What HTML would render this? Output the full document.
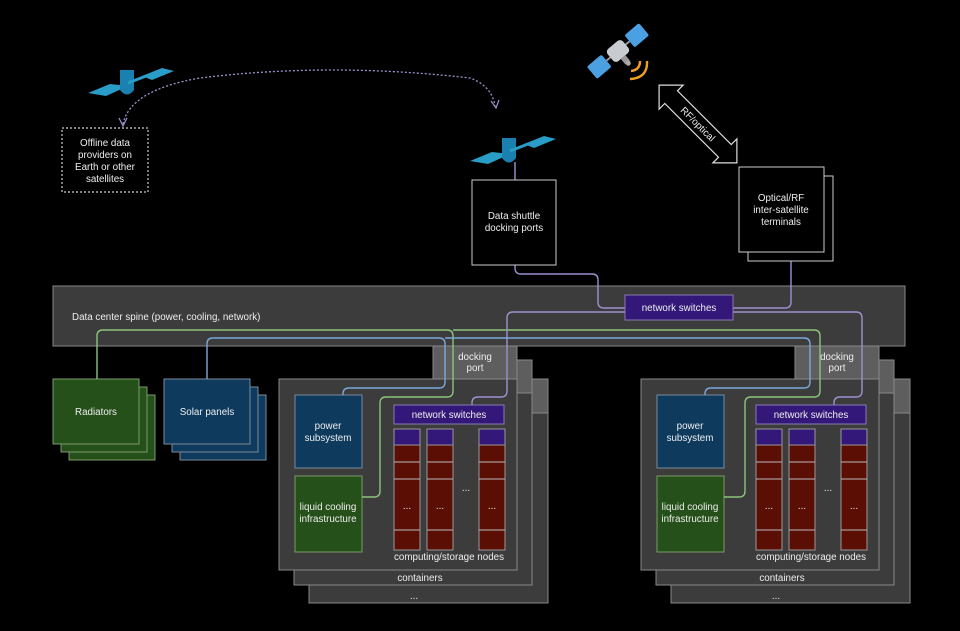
<!DOCTYPE html>
<html><head><meta charset="utf-8"><style>
html,body{margin:0;padding:0;background:#000;}
svg{display:block;font-family:"Liberation Sans",Arial,sans-serif;}
text{fill:#eee;font-size:9.8px;text-anchor:middle;}
</style></head><body>
<svg width="960" height="631" viewBox="0 0 960 631" xmlns="http://www.w3.org/2000/svg">
<rect width="960" height="631" fill="#000"/>
<defs>
<g id="cont">
  <rect x="309" y="412" width="239" height="191" fill="#3c3c3c" stroke="#888"/>
  <rect x="532" y="379" width="16" height="34" fill="#5e5e5e" stroke="#888"/>
  <rect x="294" y="393" width="238" height="192" fill="#3c3c3c" stroke="#888"/>
  <rect x="517" y="360" width="15" height="33" fill="#5e5e5e" stroke="#888"/>
  <rect x="279" y="379" width="238" height="191" fill="#3c3c3c" stroke="#888"/>
  <rect x="433" y="346" width="84" height="33" fill="#5e5e5e" stroke="#888"/>
  <text x="475" y="360">docking</text><text x="475" y="371">port</text>
  <text x="420" y="581">containers</text>
  <text x="414" y="599" font-size="7">...</text>
  <rect x="295" y="395" width="67" height="73" fill="#0e3a5e" stroke="#7a8a9a"/>
  <text x="328" y="429">power</text><text x="328" y="441">subsystem</text>
  <rect x="295" y="476" width="67" height="76" fill="#26501a" stroke="#7a9a6a"/>
  <text x="328" y="510">liquid cooling</text><text x="328" y="522">infrastructure</text>
  <rect x="394" y="405" width="110" height="19" fill="#33187a" stroke="#8a7ab0"/>
  <text x="449" y="418">network switches</text>
  <g id="col">
    <rect x="394" y="429" width="26" height="121" fill="#5a0e04" stroke="#999"/>
    <rect x="394" y="429" width="26" height="16" fill="#33187a" stroke="#999"/>
    <line x1="394" y1="462" x2="420" y2="462" stroke="#bbb"/>
    <line x1="394" y1="479" x2="420" y2="479" stroke="#bbb"/>
    <line x1="394" y1="530" x2="420" y2="530" stroke="#bbb"/>
    <text x="407" y="509" font-size="6" fill="#888">...</text>
  </g>
  <use href="#col" x="33"/>
  <use href="#col" x="85"/>
  <text x="466" y="491" font-size="6" fill="#888">...</text>
  <text x="449" y="560">computing/storage nodes</text>
</g>
</defs>

<rect x="53" y="286" width="852" height="60" fill="#3c3c3c" stroke="#888"/>
<text x="72" y="320" style="text-anchor:start">Data center spine (power, cooling, network)</text>

<rect x="69" y="395" width="86" height="65" fill="#26501a" stroke="#7a9a6a"/>
<rect x="61" y="387" width="86" height="65" fill="#26501a" stroke="#7a9a6a"/>
<rect x="53" y="379" width="86" height="65" fill="#26501a" stroke="#7a9a6a"/>
<text x="96" y="415">Radiators</text>
<rect x="180" y="395" width="86" height="65" fill="#0e3a5e" stroke="#7a8a9a"/>
<rect x="172" y="387" width="86" height="65" fill="#0e3a5e" stroke="#7a8a9a"/>
<rect x="164" y="379" width="86" height="65" fill="#0e3a5e" stroke="#7a8a9a"/>
<text x="207" y="415">Solar panels</text>

<use href="#cont"/>
<use href="#cont" x="362"/>

<g fill="none" stroke-width="1.4">
 <path d="M97 379 V336 Q97 330 103 330 H447 Q453 330 453 336 V391 Q453 397 447 397 H386 Q380 397 380 403 V491 Q380 497 374 497 H362" stroke="#8cc47a"/>
 <path d="M453 330 H814 Q820 330 820 336 V391 Q820 397 814 397 H751 Q745 397 745 403 V491 Q745 497 739 497 H724" stroke="#8cc47a"/>
 <path d="M207 379 V344 Q207 338 213 338 H439 Q445 338 445 344 V382 Q445 388 439 388 H349 Q343 388 343 394 V395" stroke="#7aa8dc"/>
 <path d="M445 338 H804 Q810 338 810 344 V382 Q810 388 804 388 H711 Q705 388 705 394 V395" stroke="#7aa8dc"/>
 <path d="M625 312 H513 Q507 312 507 318 V391 Q507 397 501 397 H478 Q472 397 472 403 V405" stroke="#a090d0"/>
 <path d="M733 312 H856 Q862 312 862 318 V391 Q862 397 856 397 H840 Q834 397 834 403 V405" stroke="#a090d0"/>
 <path d="M515 265 V268 Q515 274 521 274 H592 Q598 274 598 280 V302 Q598 308 604 308 H625" stroke="#a090d0"/>
 <path d="M791 261 V302 Q791 308 785 308 H733" stroke="#a090d0"/>
 <line x1="515" y1="162" x2="515" y2="180" stroke="#a090d0"/>
</g>
<rect x="625" y="295" width="108" height="25" fill="#33187a" stroke="#8a7ab0"/>
<text x="679" y="311">network switches</text>

<rect x="472" y="180" width="84" height="85" fill="#000" stroke="#ccc"/>
<text x="514" y="219">Data shuttle</text><text x="514" y="231">docking ports</text>
<rect x="748" y="176" width="85" height="85" fill="#000" stroke="#ccc"/>
<rect x="739" y="167" width="85" height="85" fill="#000" stroke="#ccc"/>
<text x="781" y="201">Optical/RF</text><text x="781" y="213">inter-satellite</text><text x="781" y="225">terminals</text>

<g transform="translate(698,124) rotate(45)">
 <path d="M-55 0 L-38 -17 L-38 -9 L38 -9 L38 -17 L55 0 L38 17 L38 9 L-38 9 L-38 17 Z" fill="#000" stroke="#ddd" stroke-width="1.2"/>
 <text x="0" y="3.5" font-size="9">RF/optical</text>
</g>

<rect x="62" y="128" width="86" height="64" fill="#000" stroke="#ccc" stroke-dasharray="2,2" stroke-width="1.2"/>
<text x="105" y="146">Offline data</text><text x="105" y="158">providers on</text><text x="105" y="170">Earth or other</text><text x="105" y="182">satellites</text>
<path d="M123 124 Q130 90 200 78 Q330 62 470 78 Q492 86 495 106" fill="none" stroke="#a090d0" stroke-dasharray="2,2" stroke-width="1.3"/>
<path d="M119 118 L123 126 L127 118" fill="none" stroke="#a090d0" stroke-width="1.2"/>
<path d="M491 101 L496 108 L499 100" fill="none" stroke="#a090d0" stroke-width="1.2"/>

<g id="sat1">
 <polygon points="88,93 110,84 128,86 106,96" fill="#2a9cc8"/>
 <polygon points="142,76 162,68 174,71 152,80" fill="#2a9cc8"/>
 <rect x="120" y="70" width="14" height="20" fill="#1a80b0"/>
 <path d="M120 90 Q127 99 134 90 Z" fill="#1a80b0"/>
 <line x1="128" y1="83" x2="146" y2="76" stroke="#2a9cc8" stroke-width="3"/>
</g>
<use href="#sat1" x="382" y="68"/>

<g transform="translate(618,51) rotate(-40)">
 <rect x="-34" y="-8" width="19" height="16" fill="#4aa0e0" rx="2"/>
 <rect x="15" y="-8" width="19" height="16" fill="#4aa0e0" rx="2"/>
 <line x1="-15" y1="0" x2="15" y2="0" stroke="#999" stroke-width="2"/>
 <rect x="-10" y="-8" width="20" height="16" fill="#c8ccd0" rx="4"/>
 <rect x="-3" y="8" width="6" height="7" fill="#999"/>
 <circle cx="0" cy="16" r="2.5" fill="#aaa"/>
</g>
<path d="M631 71 Q640 70 640 61" fill="none" stroke="#f0a020" stroke-width="2.4"/>
<path d="M630 79 Q648 78 647 61" fill="none" stroke="#f0a020" stroke-width="2.4"/>
</svg>
</body></html>
